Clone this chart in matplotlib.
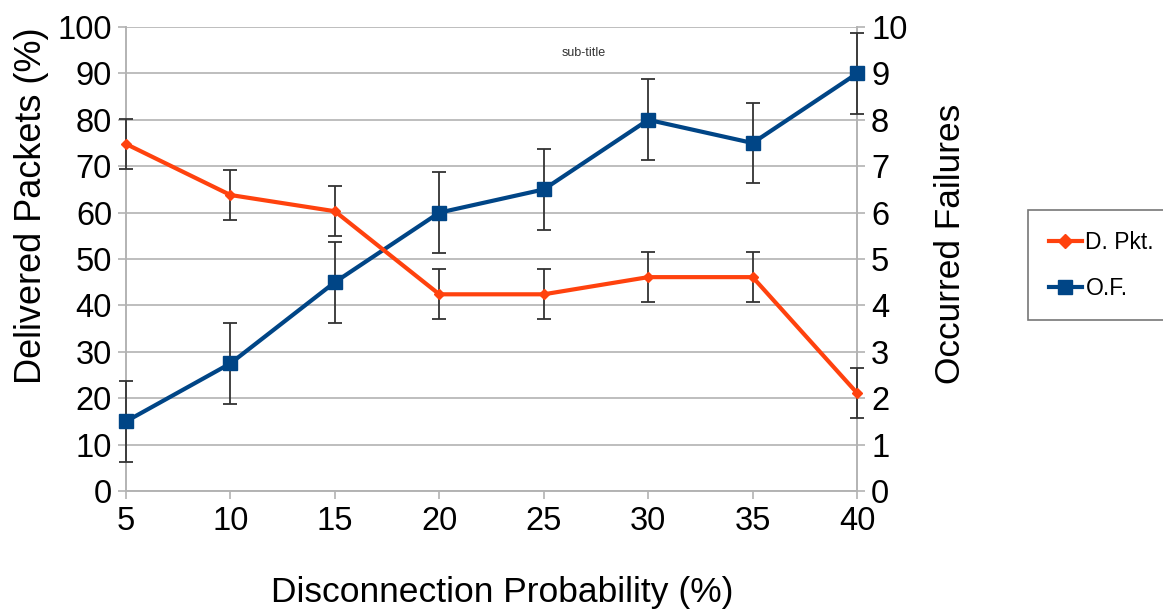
import numpy as np
import matplotlib
matplotlib.use("Agg")
import matplotlib.pyplot as plt
from matplotlib.lines import Line2D

plt.rcParams['font.family'] = ['Liberation Sans', 'DejaVu Sans']

prob = [5, 10, 15, 20, 25, 30, 35, 40]
delivered = [74.8, 63.8, 60.3, 42.4, 42.4, 46.1, 46.1, 21.1]
delivered_err = [5.4, 5.4, 5.4, 5.4, 5.4, 5.4, 5.4, 5.4]
failures = [1.5, 2.75, 4.5, 6.0, 6.5, 8.0, 7.5, 9.0]
failures_err = [0.87, 0.87, 0.87, 0.87, 0.87, 0.87, 0.87, 0.87]

orange = '#ff420e'
blue = '#004586'
grid_c = '#b3b3b3'

fig = plt.figure(figsize=(11.63, 6.10), dpi=100)
ax = fig.add_axes([0.1083, 0.195, 0.6287, 0.7607])
ax2 = ax.twinx()

ax.set_xlim(5, 40)
ax.set_ylim(0, 100)
ax2.set_ylim(0, 10)
ax.set_xticks(prob)
ax.set_yticks(np.arange(0, 101, 10))
ax2.set_yticks(np.arange(0, 11, 1))

ax.yaxis.grid(True, color=grid_c, linewidth=1.2)
ax.set_axisbelow(True)
for a in (ax, ax2):
    for s in a.spines.values():
        s.set_color(grid_c)
        s.set_linewidth(1.2)
    a.spines['top'].set_visible(False)
    a.tick_params(colors=grid_c, labelcolor='black', labelsize=23.5, length=6, width=1.2)
ax.tick_params(axis='y', pad=4)
ax.tick_params(axis='x', pad=5)
ax2.tick_params(axis='y', pad=4)

ax2.errorbar(prob, failures, yerr=failures_err, color=blue, linewidth=3,
             marker='s', markersize=10, ecolor='#333333', elinewidth=1.3,
             capsize=5, capthick=1.3, clip_on=False, zorder=3)
ax2.errorbar(prob, np.array(delivered) / 10, yerr=np.array(delivered_err) / 10,
             color=orange, linewidth=3, marker='D', markersize=5,
             ecolor='#333333', elinewidth=1.3, capsize=5, capthick=1.3,
             clip_on=False, zorder=4)

ax.set_ylabel('Delivered Packets (%)', fontsize=26, labelpad=6)
ax.yaxis.label.set_y(0.614)
ax2.set_ylabel('Occurred Failures', fontsize=25.4, labelpad=19)
ax2.yaxis.label.set_y(0.532)
ax.set_xlabel('Disconnection Probability (%)', fontsize=25.5)
ax.xaxis.set_label_coords(0.515, -0.183)

fig.text(0.502, 0.913, 'sub-title', fontsize=9, ha='center', va='center', color='#333333')

handles = [Line2D([], [], color=orange, linewidth=3, marker='D', markersize=7),
           Line2D([], [], color=blue, linewidth=3, marker='s', markersize=10)]
leg = fig.legend(handles, ['D. Pkt.', 'O.F.'], loc='center left',
                 bbox_to_anchor=(0.884, 0.565), fontsize=16.5, frameon=True,
                 fancybox=False, edgecolor='#555555', handlelength=1.45,
                 borderpad=0.9, labelspacing=1.0, handletextpad=0.15,
                 borderaxespad=0)
leg.get_frame().set_linewidth(1.2)

fig.savefig('out.png', dpi=100)
